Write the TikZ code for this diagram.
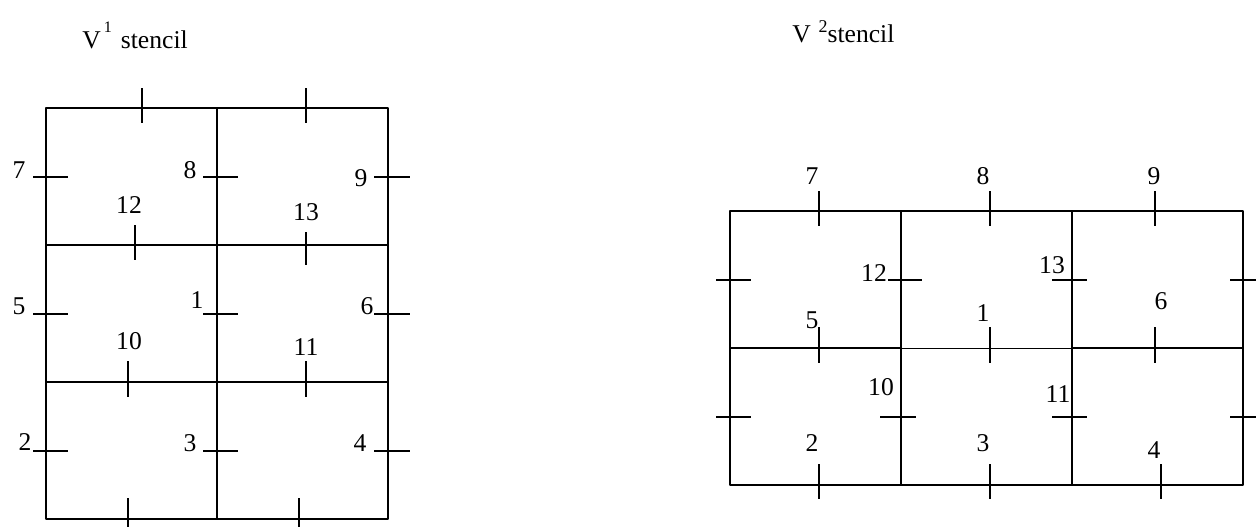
\documentclass[tikz,border=0pt]{standalone}
\usepackage{fontspec}
\setmainfont{Liberation Serif}

\begin{document}
\begin{tikzpicture}[x=0.5pt, y=-0.5pt, line join=round,
    cell/.style={line width=1pt},
    tickline/.style={line width=1pt},
    num/.style={font=\fontsize{12.8}{15}\selectfont, inner sep=0pt}]
  \useasboundingbox (0,0) rectangle (1256,526);

  % ---- V^1 stencil (left) ----
  \node[num, anchor=base west] (title1) at (82,48)
    {V\hspace{0.12em}\raisebox{8pt}{\fontsize{8}{9}\selectfont 1}\hspace{0.35em}stencil};

  % cells
  \draw[cell] (46,108) rectangle (388,519);
  \draw[cell] (217,108) -- (217,519);
  \draw[cell] (46,245) -- (388,245);
  \draw[cell] (46,382) -- (388,382);

  % ticks across horizontal edges
  \draw[tickline] (142,88) -- (142,123)  (306,88) -- (306,123);
  \draw[tickline] (135,225) -- (135,260)  (306,232) -- (306,265);
  \draw[tickline] (128,361) -- (128,397)  (306,361) -- (306,397);
  \draw[tickline] (128,498) -- (128,530)  (299,498) -- (299,530);
  % ticks across vertical edges
  \foreach \y in {177,314,451}
    \draw[tickline] (33,\y) -- (68,\y)  (203,\y) -- (238,\y)  (374,\y) -- (410,\y);

  % labels
  \node[num] (l7) at (19,170) {7};
  \node[num] (l8) at (190,170) {8};
  \node[num] (l9) at (361,178) {9};
  \node[num] (l12) at (129,205) {12};
  \node[num] (l13) at (306,212) {13};
  \node[num] (l5) at (19,306) {5};
  \node[num] (l1) at (197,300) {1};
  \node[num] (l6) at (367,306) {6};
  \node[num] (l10) at (129,341) {10};
  \node[num] (l11) at (306,347) {11};
  \node[num] (l2) at (25,442) {2};
  \node[num] (l3) at (190,443) {3};
  \node[num] (l4) at (360,443) {4};

  % ---- V^2 stencil (right) ----
  \node[num, anchor=base west] (title2) at (792,42)
    {V\hspace{0.3em}\raisebox{5pt}{\fontsize{9}{10}\selectfont 2}stencil};

  % cells
  \draw[cell] (730,211) rectangle (1243,485);
  \draw[cell] (901,211) -- (901,485);
  \draw[cell] (1072,211) -- (1072,485);
  \draw[line width=1.3pt] (730,348) -- (901,348)  (1072,348) -- (1243,348);
  \draw[line width=0.5pt] (901,348) -- (1072,348);

  % ticks across horizontal edges
  \draw[tickline] (819,191) -- (819,226)  (990,191) -- (990,226)  (1155,191) -- (1155,226);
  \draw[tickline] (819,327) -- (819,363)  (990,327) -- (990,363)  (1155,327) -- (1155,363);
  \draw[tickline] (819,464) -- (819,499)  (990,464) -- (990,499)  (1161,464) -- (1161,499);
  % ticks across vertical edges
  \draw[tickline] (716,280) -- (751,280)  (888,280) -- (922,280)  (1052,280) -- (1087,280)  (1230,280) -- (1265,280);
  \draw[tickline] (716,417) -- (751,417)  (880,417) -- (916,417)  (1052,417) -- (1087,417)  (1230,417) -- (1265,417);

  % labels
  \node[num] (r7) at (812,176) {7};
  \node[num] (r8) at (983,176) {8};
  \node[num] (r9) at (1154,176) {9};
  \node[num] (r12) at (874,273) {12};
  \node[num] (r13) at (1052,265) {13};
  \node[num] (r5) at (812,320) {5};
  \node[num] (r1) at (983,313) {1};
  \node[num] (r6) at (1161,301) {6};
  \node[num] (r10) at (881,387) {10};
  \node[num] (r11) at (1058,394) {11};
  \node[num] (r2) at (812,443) {2};
  \node[num] (r3) at (983,443) {3};
  \node[num] (r4) at (1154,450) {4};
\end{tikzpicture}
\end{document}
